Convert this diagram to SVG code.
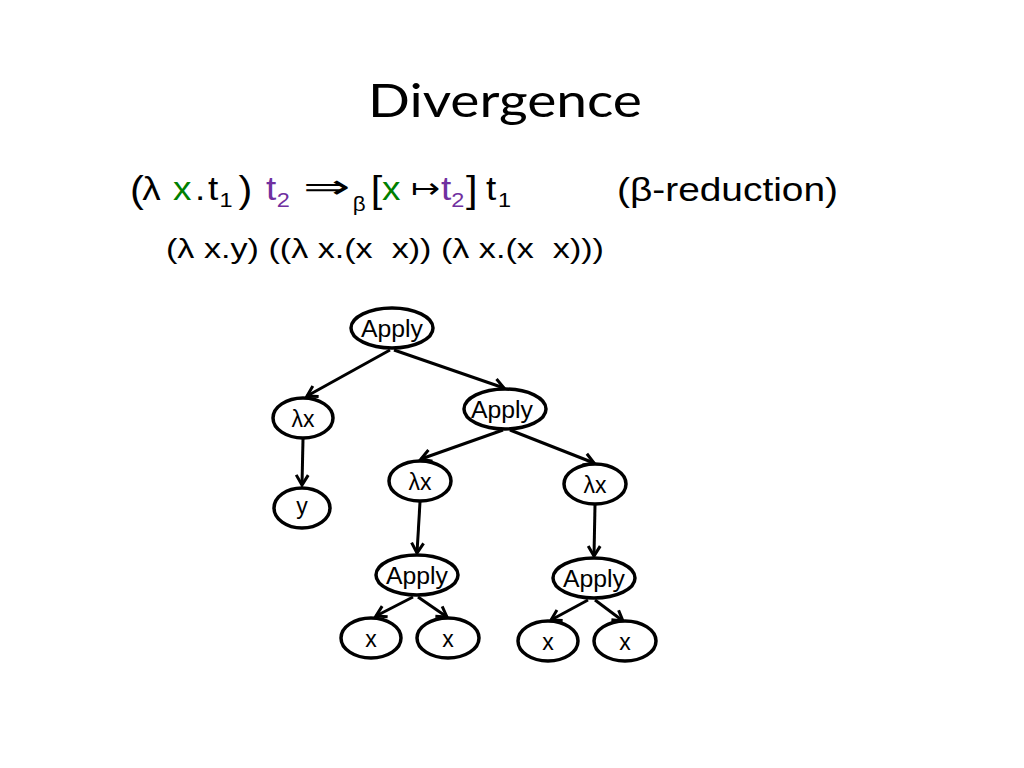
<svg xmlns="http://www.w3.org/2000/svg" width="1024" height="768" viewBox="0 0 1024 768">
<style>
.t{font-family:"Liberation Sans",Arial,sans-serif;fill:#000}
.n{fill:#fff;stroke:#000;stroke-width:3.5}
.lb{font-family:"Liberation Sans",Arial,sans-serif;font-size:23px;text-anchor:middle;fill:#000}
.g{fill:#008000}
.p{fill:#7030A0}
.e{stroke:#000;stroke-width:3;fill:none;marker-end:url(#ah)}
</style>
<defs>
<marker id="ah" markerUnits="userSpaceOnUse" markerWidth="16" markerHeight="16" viewBox="-13 -8 16 16" refX="0" refY="0" orient="auto">
<path d="M-10,-6 L0,0 L-10,6" fill="none" stroke="#000" stroke-width="3" stroke-linejoin="miter"/>
</marker>
</defs>
<rect width="1024" height="768" fill="#fff"/>
<text x="505" y="117" font-family="Lato,'Open Sans',sans-serif" font-size="46" text-anchor="middle" textLength="274" lengthAdjust="spacingAndGlyphs">Divergence</text>
<g transform="matrix(1.12 0 0 1 0 0)">
<text class="t" y="200" font-size="33"><tspan x="116" font-size="37" y="202">(</tspan><tspan x="127" y="200">λ</tspan><tspan x="154.5" class="g">x</tspan><tspan x="174">.</tspan><tspan x="185.7">t</tspan><tspan x="196" font-size="21" y="207">1</tspan><tspan x="213" font-size="37" y="202">)</tspan><tspan x="237.5" class="p" y="200">t</tspan><tspan x="247" class="p" font-size="21" y="207">2</tspan><tspan x="315" font-size="20" y="211">β</tspan><tspan x="331" font-size="37" y="202">[</tspan><tspan x="341" class="g" y="200">x</tspan><tspan x="393.8" class="p">t</tspan><tspan x="403" class="p" font-size="21" y="207">2</tspan><tspan x="416" font-size="37" y="202">]</tspan><tspan x="433.9" y="200">t</tspan><tspan x="444.6" font-size="21" y="207">1</tspan></text>
</g>
<text class="t" x="303" y="198" font-size="33" textLength="48" lengthAdjust="spacingAndGlyphs">⇒</text>
<text class="t" x="411" y="198" font-size="30" textLength="29" lengthAdjust="spacingAndGlyphs">↦</text>
<text class="t" x="617" y="201" font-size="34" textLength="221" lengthAdjust="spacingAndGlyphs">(β-reduction)</text>
<text class="t" x="166" y="258" font-size="27" textLength="438" lengthAdjust="spacingAndGlyphs" xml:space="preserve">(λ x.y) ((λ x.(x  x)) (λ x.(x  x)))</text>
<g id="connectors">
<line class="e" x1="390" y1="350" x2="307" y2="396"/>
<line class="e" x1="394" y1="350" x2="504" y2="388"/>
<line class="e" x1="303" y1="439" x2="302" y2="485"/>
<line class="e" x1="503" y1="430" x2="421" y2="459"/>
<line class="e" x1="510" y1="430" x2="594" y2="463"/>
<line class="e" x1="420" y1="502" x2="417" y2="553"/>
<line class="e" x1="595" y1="505" x2="594" y2="556"/>
<line class="e" x1="413" y1="597" x2="376" y2="616"/>
<line class="e" x1="418" y1="597" x2="447" y2="617"/>
<line class="e" x1="588" y1="600" x2="551" y2="620"/>
<line class="e" x1="595" y1="600" x2="623" y2="621"/>
</g>
<g id="apply-root"><ellipse class="n" cx="392" cy="328" rx="41" ry="20"/><text class="lb" x="392" y="337" textLength="62" lengthAdjust="spacingAndGlyphs">Apply</text></g>
<g id="lam-1"><ellipse class="n" cx="303" cy="418" rx="30" ry="20"/><text class="lb" x="303" y="427">λx</text></g>
<g id="apply-2"><ellipse class="n" cx="505" cy="409" rx="41" ry="20"/><text class="lb" x="502" y="418" textLength="62" lengthAdjust="spacingAndGlyphs">Apply</text></g>
<g id="y"><ellipse class="n" cx="302" cy="508" rx="28" ry="20"/><text class="lb" x="302" y="514">y</text></g>
<g id="lam-2"><ellipse class="n" cx="420" cy="481" rx="31" ry="20"/><text class="lb" x="420" y="490">λx</text></g>
<g id="lam-3"><ellipse class="n" cx="595" cy="484" rx="31" ry="20"/><text class="lb" x="595" y="493">λx</text></g>
<g id="apply-3"><ellipse class="n" cx="417" cy="575" rx="41" ry="20"/><text class="lb" x="417" y="584" textLength="62" lengthAdjust="spacingAndGlyphs">Apply</text></g>
<g id="apply-4"><ellipse class="n" cx="594" cy="578" rx="41" ry="20"/><text class="lb" x="594" y="587" textLength="62" lengthAdjust="spacingAndGlyphs">Apply</text></g>
<g id="x-1"><ellipse class="n" cx="371" cy="638" rx="30" ry="20"/><text class="lb" x="371" y="647">x</text></g>
<g id="x-2"><ellipse class="n" cx="448" cy="638" rx="31" ry="20"/><text class="lb" x="448" y="647">x</text></g>
<g id="x-3"><ellipse class="n" cx="548" cy="641" rx="30" ry="20"/><text class="lb" x="548" y="650">x</text></g>
<g id="x-4"><ellipse class="n" cx="625" cy="641" rx="31" ry="20"/><text class="lb" x="625" y="650">x</text></g>
</svg>
